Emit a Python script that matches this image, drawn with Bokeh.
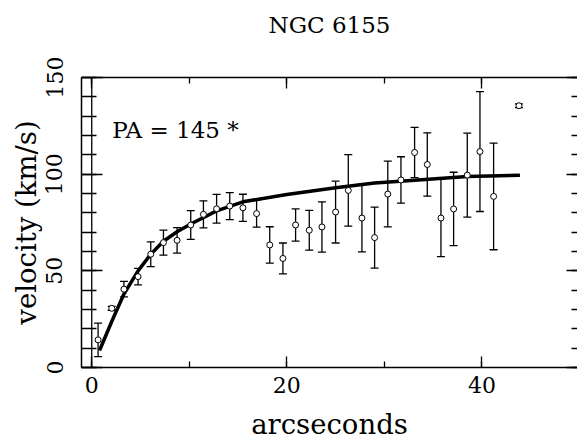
from bokeh.plotting import figure
from bokeh.models import (ColumnDataSource, Whisker, TeeHead, LinearAxis, Span,
                          SingleIntervalTicker, Range1d, Label, CustomJSTickFormatter)
from bokeh.embed import file_html
from bokeh.resources import INLINE

# data
r_arcsec = [0.65, 2.05, 3.3, 4.75, 6.05, 7.35, 8.75, 10.15, 11.45, 12.8, 14.15, 15.5,
            16.9, 18.25, 19.6, 20.9, 22.3, 23.6, 25.0, 26.3, 27.7, 29.0, 30.35, 31.7,
            33.1, 34.4, 35.8, 37.1, 38.5, 39.8, 41.2, 43.8]
vel = [14.3, 30.6, 40.5, 47.0, 58.6, 64.6, 65.8, 73.7, 79.2, 82.1, 83.5, 82.6,
       79.6, 63.4, 56.4, 73.7, 71.0, 72.7, 80.4, 91.6, 77.3, 67.2, 89.7, 97.0,
       111.2, 105.0, 77.3, 82.0, 99.5, 111.7, 88.5, 135.4]
err = [8.7, 1.0, 4.0, 4.3, 6.4, 6.5, 6.6, 7.4, 7.0, 7.4, 7.0, 7.0,
       7.0, 9.4, 8.0, 8.3, 10.3, 13.0, 16.0, 18.5, 17.5, 15.8, 17.0, 12.0,
       13.0, 16.4, 20.0, 19.0, 21.7, 31.0, 27.6, 1.0]

fit_x = [0.8, 2.05, 3.3, 4.75, 6.05, 7.35, 8.75, 10.15, 12.8, 15.5, 20.0, 25.0,
         29.0, 33.1, 38.5, 43.9]
fit_y = [8.8, 23.8, 38.0, 50.0, 58.6, 65.3, 70.2, 74.2, 81.0, 85.7, 89.5, 93.0,
         95.4, 96.9, 98.8, 99.5]

title_text = "NGC 6155"
pa_text = "PA = 145 *"
x_label = "arcseconds"
y_label = "velocity (km/s)"

FONT = "DejaVu Serif"
X0, X1 = -1.05, 49.8

p = figure(width=577, height=447, output_backend="svg", toolbar_location=None,
           x_range=Range1d(X0, X1), y_range=Range1d(0, 150),
           x_axis_location=None, y_axis_location=None,
           min_border_left=81, min_border_right=0, min_border_top=77,
           min_border_bottom=80)
p.outline_line_color = None
p.grid.visible = False
p.background_fill_color = "white"
p.border_fill_color = "white"

blank = CustomJSTickFormatter(code="return '';")

def mk_axis(interval, nminor, major_in, minor_in, labels):
    ax = LinearAxis(ticker=SingleIntervalTicker(interval=interval, num_minor_ticks=nminor))
    ax.major_tick_in = major_in
    ax.major_tick_out = 0
    ax.minor_tick_in = minor_in
    ax.minor_tick_out = 0
    ax.axis_line_width = 1.5
    ax.major_tick_line_width = 1.3
    ax.minor_tick_line_width = 1.3
    ax.axis_line_color = "black"
    ax.major_tick_line_color = "black"
    ax.minor_tick_line_color = "black"
    ax.axis_label_text_font = FONT
    ax.axis_label_text_font_style = "normal"
    ax.axis_label_text_color = "black"
    if labels:
        ax.major_label_text_font = FONT
        ax.major_label_text_font_size = "22px"
        ax.major_label_text_color = "black"
        ax.axis_label_text_font_size = "27.5px"
    else:
        ax.formatter = blank
        ax.major_label_standoff = 0
        ax.major_label_text_font_size = "1px"
    return ax

bottom = mk_axis(20, 2, 11, 6, True)
bottom.axis_label = x_label
bottom.major_label_standoff = 9
bottom.axis_label_standoff = 12
p.add_layout(bottom, "below")

# top axis carries the chart title as its label
top = mk_axis(20, 2, 11, 6, False)
top.axis_label = title_text
top.axis_label_text_font_size = "23px"
top.axis_label_standoff = 40
p.add_layout(top, "above")

left = mk_axis(50, 5, 21, 15, True)
left.axis_label = y_label
left.major_label_orientation = "vertical"
left.major_label_standoff = 19
left.axis_label_standoff = 2
p.add_layout(left, "left")

right = mk_axis(50, 5, 11, 6, False)
right.axis_line_color = None
p.add_layout(right, "right")

p.add_layout(Span(location=0, dimension="height", line_color="black", line_width=1.3))

src = ColumnDataSource(dict(x=r_arcsec, y=vel,
                            lo=[v - e for v, e in zip(vel, err)],
                            hi=[v + e for v, e in zip(vel, err)]))

w = Whisker(source=src, base="x", lower="lo", upper="hi", line_color="black",
            line_width=1.3,
            lower_head=TeeHead(size=8, line_color="black", line_width=1.3),
            upper_head=TeeHead(size=8, line_color="black", line_width=1.3))
p.add_layout(w)

p.line(fit_x, fit_y, line_color="black", line_width=3.5)
p.scatter("x", "y", source=src, marker="circle", size=6, fill_color="white",
          line_color="black", line_width=1)

p.add_layout(Label(x=2.1, y=123, text=pa_text, text_font=FONT, text_font_size="23px",
                   text_color="black", text_baseline="alphabetic"))

open("out.html", "w").write(file_html(p, INLINE))
